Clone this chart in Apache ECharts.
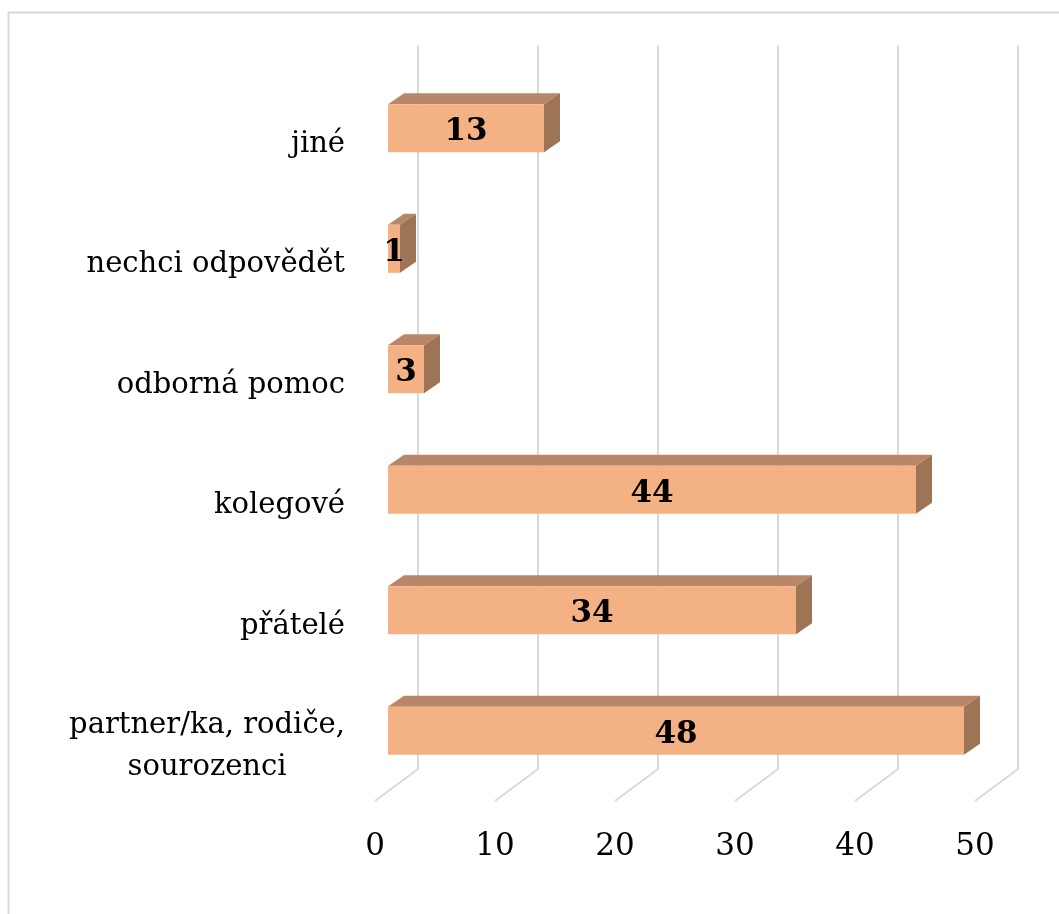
<!DOCTYPE html>
<html>
<head>
<meta charset="utf-8">
<script src="https://cdn.jsdelivr.net/npm/echarts@6/dist/echarts.min.js"></script>
<style>
html, body { margin: 0; padding: 0; background: #fff; }
#chart { width: 1059px; height: 914px; }
</style>
</head>
<body>
<div id="chart"></div>
<script>
// Categories listed bottom to top, as the category axis draws them
const categories = ['partner/ka, rodiče,\nsourozenci', 'přátelé', 'kolegové', 'odborná pomoc', 'nechci odpovědět', 'jiné'];
const values = [48, 34, 44, 3, 1, 13];
const tickValues = [0, 10, 20, 30, 40, 50];

// Styling of the pseudo-3D bars and walls
const FRONT = '#F4B183';
const TOP = '#B98767';
const SIDE = '#9D7455';
const GRID = '#D9D9D9';
const DX = 16, DY = -11;          // bar depth (oblique projection)
const SHIFT_X = 13, SHIFT_Y = -16; // bar front face relative to floor front edge
const WALL_X = 43, WALL_Y = -32;   // back wall relative to floor front edge
const SERIF = '"DejaVu Serif", "Liberation Serif", serif';

function renderWall(params, api) {
  const cs = params.coordSys;
  const x = api.coord([api.value(0), 0])[0];
  const floorFront = cs.y + cs.height - 6;
  return {
    type: 'polyline',
    shape: { points: [[x + WALL_X, cs.y - 39], [x + WALL_X, floorFront + WALL_Y], [x, floorFront]] },
    style: { stroke: GRID, lineWidth: 2, fill: null }
  };
}

function renderBar(params, api) {
  const v = api.value(0), c = api.value(1);
  const p0 = api.coord([0, c]);
  const p1 = api.coord([v, c]);
  const h = api.size([0, 1])[1] * 0.4;
  const x0 = p0[0] + SHIFT_X, x1 = p1[0] + SHIFT_X;
  const yc = p0[1] + SHIFT_Y;
  const yT = yc - h / 2, yB = yc + h / 2;
  return {
    type: 'group',
    children: [
      { type: 'polygon', shape: { points: [[x0, yT], [x0 + DX, yT + DY], [x1 + DX, yT + DY], [x1, yT]] }, style: { fill: TOP } },
      { type: 'polygon', shape: { points: [[x1, yT], [x1 + DX, yT + DY], [x1 + DX, yB + DY], [x1, yB]] }, style: { fill: SIDE } },
      { type: 'rect', shape: { x: x0, y: yT, width: x1 - x0, height: h }, style: { fill: FRONT } },
      { type: 'text', x: (x0 + x1) / 2, y: yc + 4, style: { text: String(v), align: 'center', verticalAlign: 'middle', font: 'bold 31px ' + SERIF, fill: '#000' } }
    ]
  };
}

const chart = echarts.init(document.getElementById('chart'), null, { renderer: 'canvas' });
chart.setOption({
  animation: false,
  backgroundColor: '#fff',
  graphic: [{
    type: 'rect',
    shape: { x: 8.5, y: 12.5, width: 1200, height: 1000 },
    style: { fill: null, stroke: GRID, lineWidth: 2 },
    silent: true
  }],
  grid: { left: 375, right: 84, top: 84, bottom: 107 },
  xAxis: {
    type: 'value', min: 0, max: 50, interval: 10,
    axisLine: { show: false }, axisTick: { show: false }, splitLine: { show: false },
    axisLabel: { fontFamily: SERIF, fontSize: 31, color: '#000', margin: 24 }
  },
  yAxis: {
    type: 'category', data: categories,
    axisLine: { show: false }, axisTick: { show: false }, splitLine: { show: false },
    axisLabel: {
      margin: 30,
      formatter: function (v) { return v.split('\n').map(function (s) { return '{c|' + s + '}'; }).join('\n'); },
      rich: { c: { fontFamily: SERIF, fontSize: 29, color: '#000', align: 'center', lineHeight: 42 } }
    }
  },
  series: [
    {
      type: 'custom', clip: false, z: 1,
      renderItem: renderWall,
      encode: { x: 0, y: 1 },
      data: tickValues.map(function (t) { return [t, 0]; })
    },
    {
      type: 'custom', clip: false, z: 2,
      renderItem: renderBar,
      encode: { x: 0, y: 1 },
      data: values.map(function (v, i) { return [v, i]; })
    }
  ]
});
</script>
</body>
</html>
